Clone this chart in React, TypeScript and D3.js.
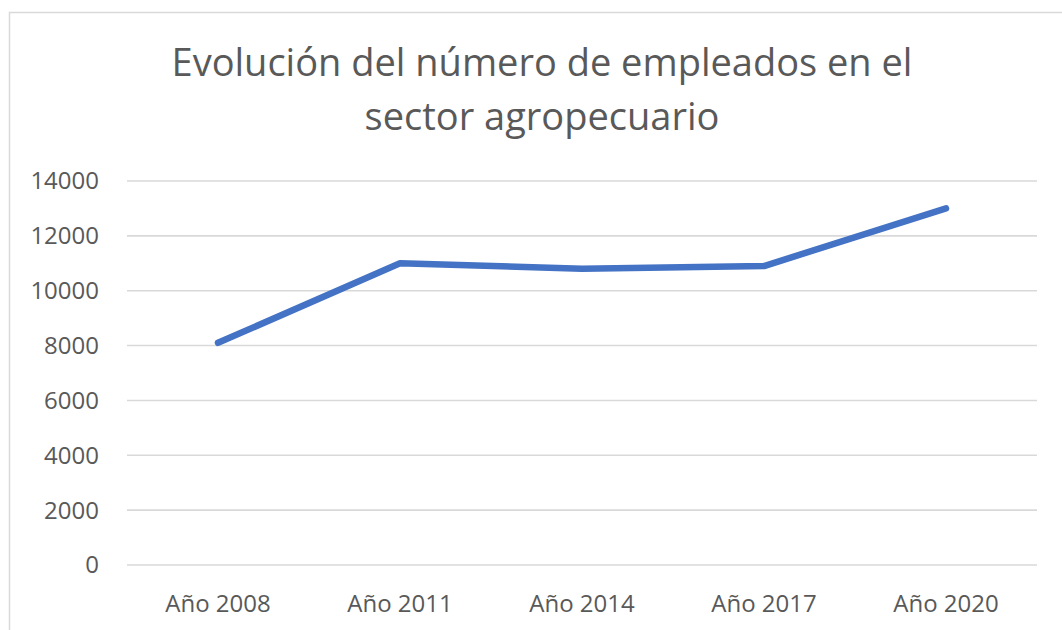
import React from "react";
import * as d3 from "d3";

const categories = ["Año 2008", "Año 2011", "Año 2014", "Año 2017", "Año 2020"];
const empleados = [8100, 11000, 10800, 10900, 13000];
const yTickValues = [0, 2000, 4000, 6000, 8000, 10000, 12000, 14000];
const titleLines = ["Evolución del número de empleados en el", "sector agropecuario"];

const W = 1062;
const H = 630;
const plot = { left: 127, right: 1037, top: 181, bottom: 565 };
const textColor = "#595959";
const gridColor = "#d9d9d9";
const lineColor = "#4472c4";
const font = "'Open Sans', 'Noto Sans', sans-serif";

export default function App() {
  const x = d3
    .scaleBand<string>()
    .domain(categories)
    .range([plot.left, plot.right]);
  const y = d3.scaleLinear().domain([0, 14000]).range([plot.bottom, plot.top]);

  const line = d3
    .line<number>()
    .x((_, i) => (x(categories[i]) ?? 0) + x.bandwidth() / 2)
    .y((d) => y(d));

  return (
    <div style={{ position: "absolute", left: 0, top: 0 }}>
      <svg width={W} height={H} style={{ display: "block", background: "#fff" }}>
        <rect x={9.5} y={12.5} width={1080} height={640} fill="#fff" stroke={gridColor} strokeWidth={1.5} />

        <g fontFamily={font} fill={textColor} textAnchor="middle">
          {titleLines.map((t, i) => (
            <text key={t} x={542} y={76 + i * 54} fontSize={38}>
              {t}
            </text>
          ))}
        </g>

        {yTickValues.map((t) => (
          <g key={t}>
            <line x1={plot.left} x2={plot.right} y1={y(t)} y2={y(t)} stroke={gridColor} strokeWidth={1.6} />
            <text
              x={99}
              y={y(t)}
              dy="0.35em"
              textAnchor="end"
              fontFamily={font}
              fontSize={24}
              fill={textColor}
            >
              {t}
            </text>
          </g>
        ))}

        {categories.map((c) => (
          <text
            key={c}
            x={(x(c) ?? 0) + x.bandwidth() / 2}
            y={612}
            textAnchor="middle"
            fontFamily={font}
            fontSize={24}
            fill={textColor}
          >
            {c}
          </text>
        ))}

        <path
          d={line(empleados) ?? ""}
          fill="none"
          stroke={lineColor}
          strokeWidth={6.5}
          strokeLinecap="round"
          strokeLinejoin="round"
        />
      </svg>
    </div>
  );
}
